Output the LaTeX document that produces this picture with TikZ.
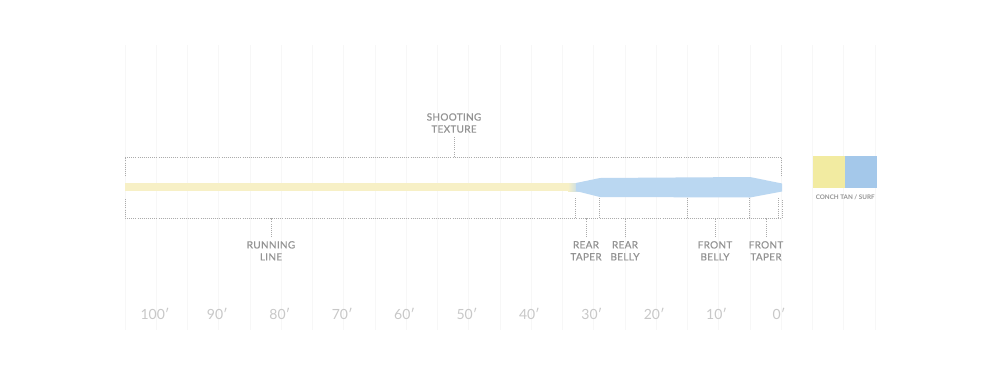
\documentclass[tikz,border=0pt]{standalone}
\usepackage{fontspec}
\setmainfont{Lato}
\newfontfamily\partfont[LetterSpace=3,FakeBold=0.5]{Lato}
\usetikzlibrary{positioning}
\definecolor{gridgray}{HTML}{F7F7F7}
\definecolor{dotgray}{HTML}{ABABAB}
\definecolor{textgray}{HTML}{939393}
\definecolor{numgray}{HTML}{C8C8C8}
\definecolor{runyellow}{HTML}{F7F0C6}
\definecolor{headblue}{HTML}{BAD7F1}
\definecolor{conchtan}{HTML}{F2EBA1}
\definecolor{surfblue}{HTML}{A4C8EA}

\begin{document}
\begin{tikzpicture}[x=1pt,y=-1pt,
    part/.style={font=\partfont\fontsize{10}{12}\selectfont,text=textgray,align=center,inner sep=0pt},
    feet/.style={font=\fontsize{14}{14}\selectfont,text=numgray,inner sep=0pt},
    guide/.style={draw=dotgray,line width=0.8pt,dash pattern=on 0.9pt off 1.2pt},
    swatch/.style={draw=none,minimum width=32pt,minimum height=32pt,inner sep=0pt}]
    \fill[white] (0,0) rectangle (1000,375);
    \useasboundingbox (0,0) rectangle (1000,375);
    % faint grid
    \foreach \i in {0,...,24}
        \draw[gridgray,line width=0.6pt] (125+\i*31.25,45) -- (125+\i*31.25,330);

    % fly line
    \fill[runyellow] (125,183) rectangle (575,191);
    \shade[left color=runyellow,right color=headblue] (568,183) rectangle (580,191);
    \fill[headblue] (576,183) -- (600,178) -- (750,177) -- (782,183.5) -- (782,191.5)
        -- (750,197.5) -- (600,197) -- (576,191) -- cycle;

    % shooting texture bracket
    \coordinate (topmid) at (454,157);
    \node[part] (shooting) at (454,123) {SHOOTING\\TEXTURE};
    \draw[guide] (125,176) -- (125,157) -- (781,157) -- (781,176);
    \draw[guide,shorten <=4pt] (shooting.south) -- (topmid);

    % lower bracket and section marks
    \draw[guide] (125,199) -- (125,218) -- (782,218) -- (782,199);
    \foreach \x in {575,599,687,749,778}
        \draw[guide] (\x,198) -- (\x,218);

    \node[part,anchor=north] (running) at (271,241) {RUNNING\\LINE};
    \node[part,anchor=north] (reartaper) at (586,241) {REAR\\TAPER};
    \node[part,anchor=north] (rearbelly) at (625,241) {REAR\\BELLY};
    \node[part,anchor=north] (frontbelly) at (715,241) {FRONT\\BELLY};
    \node[part,anchor=north] (fronttaper) at (766,241) {FRONT\\TAPER};
    \foreach \n in {running,reartaper,rearbelly,frontbelly,fronttaper}{
        \coordinate (\n-top) at (\n.north |- topmid);
        \draw[guide,shorten <=4pt] (\n.north) -- ([yshift=-61pt]\n-top);
    }

    % distance scale
    \foreach \v [count=\k from 0] in {100,90,80,70,60,50,40,30,20,10,0}
        \node[feet] (ft\v) at (155+\k*62.4,314) {\v′};

    % colour swatches
    \node[swatch,fill=conchtan] (tan) at (829,172) {};
    \node[swatch,fill=surfblue,right=0pt of tan] (surf) {};
    \node[below=6pt of tan.south east,inner sep=0pt,text=textgray,
        font=\bfseries\fontsize{6.3}{7}\selectfont] (swatchname) {CONCH TAN / SURF};
\end{tikzpicture}
\end{document}
